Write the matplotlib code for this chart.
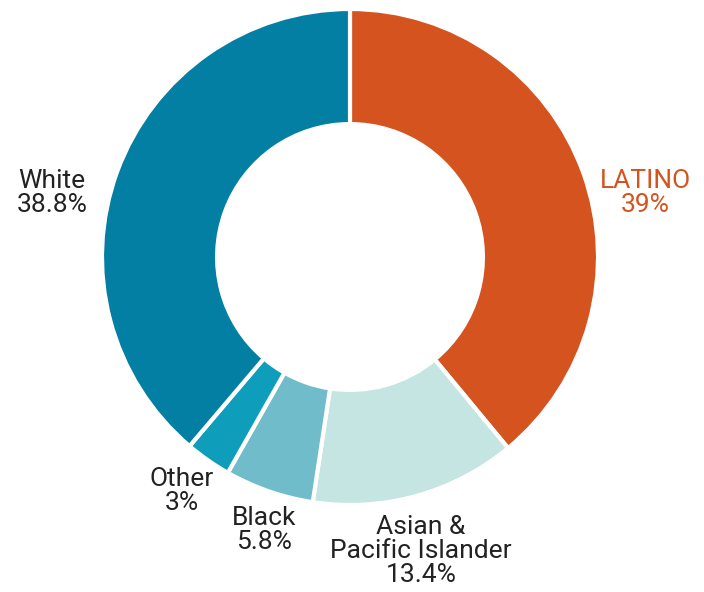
import matplotlib.pyplot as plt

plt.rcParams['font.family'] = ['Roboto', 'DejaVu Sans']

groups = ["LATINO", "Asian &\nPacific Islander", "Black", "Other", "White"]
shares = [39, 13.4, 5.8, 3, 38.8]
pct_labels = ["39%", "13.4%", "5.8%", "3%", "38.8%"]
colors = ["#D4531F", "#C5E5E2", "#70BCCB", "#0E9DBA", "#037FA3"]

# label placement in pixels (x, y from top)
label_pos = [(645, 193), (421, 551), (264, 530), (182, 491), (52, 193)]
label_colors = ["#D4531F", "#222222", "#222222", "#222222", "#222222"]

W, H = 704, 592
fig = plt.figure(figsize=(W / 100, H / 100), dpi=100)
ax = fig.add_axes([0, 0, 1, 1])

cx, cy, r = 350, H - 257, 248
ax.pie(shares, colors=colors, startangle=90, counterclock=False,
       center=(cx, cy), radius=r, frame=True,
       wedgeprops=dict(width=r * 0.464, edgecolor='white', linewidth=3))
ax.set_xlim(0, W)
ax.set_ylim(0, H)
ax.set_aspect('equal')
ax.axis('off')

for g, p, (x, y), c in zip(groups, pct_labels, label_pos, label_colors):
    ax.text(x, H - y, g + "\n" + p, ha='center', va='center', fontsize=19,
            color=c, linespacing=1.0)

plt.savefig('out.png', dpi=100)
